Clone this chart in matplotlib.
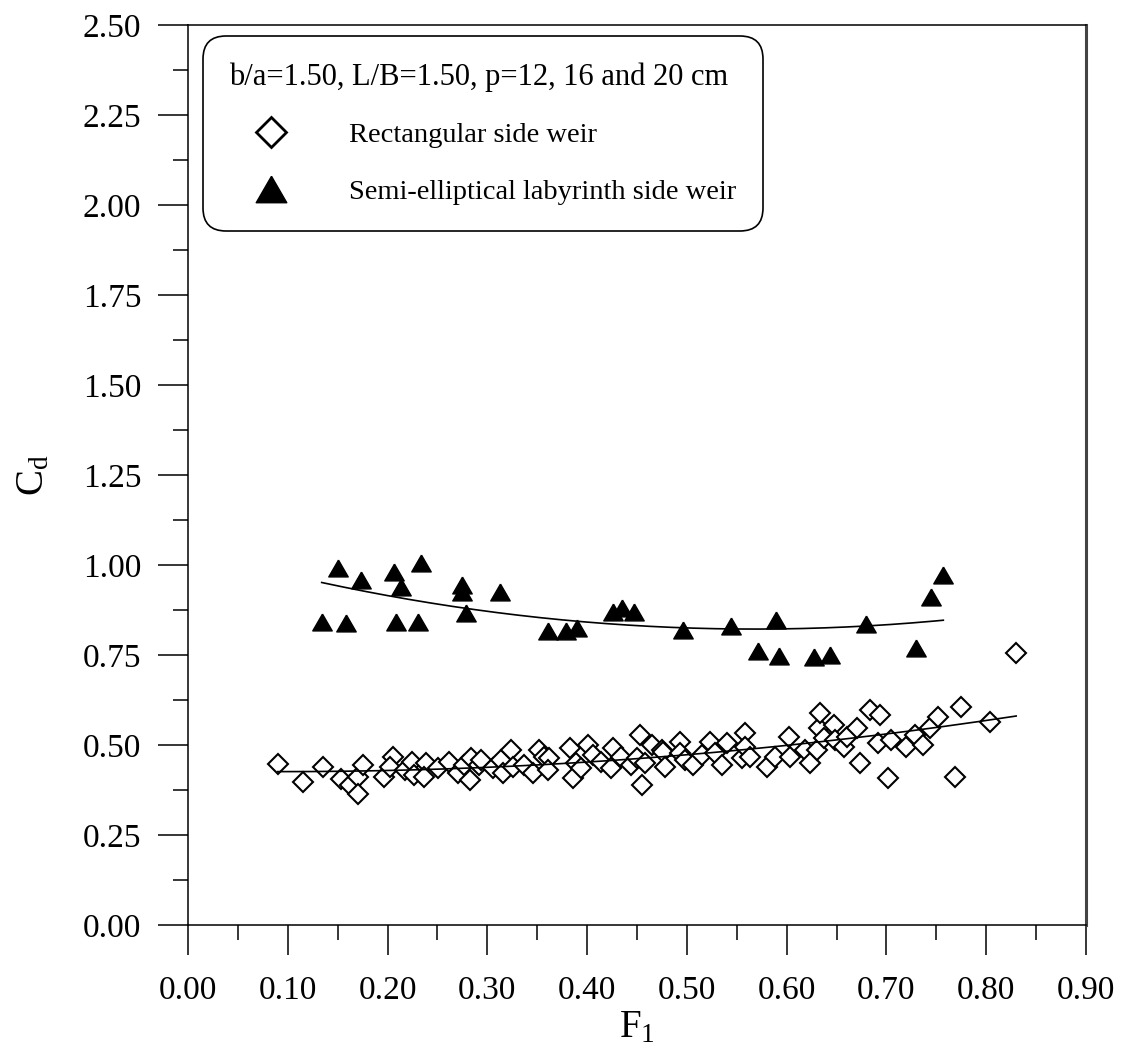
import numpy as np
import matplotlib
matplotlib.use("Agg")
from matplotlib import pyplot as plt
from matplotlib.lines import Line2D
from matplotlib.ticker import MultipleLocator, FormatStrFormatter

plt.rcParams['font.family'] = ['Liberation Serif', 'DejaVu Serif']
plt.rcParams['mathtext.default'] = 'regular'

# Rectangular side weir (open diamonds)
rect_f1 = [0.090, 0.115, 0.135, 0.153, 0.162, 0.170, 0.170, 0.175, 0.196, 0.205,
           0.202, 0.217, 0.224, 0.227, 0.239, 0.237, 0.251, 0.262, 0.271, 0.277,
           0.284, 0.283, 0.292, 0.294, 0.306, 0.314, 0.316, 0.324, 0.326, 0.337,
           0.346, 0.352, 0.357, 0.362, 0.361, 0.383, 0.389, 0.386, 0.394, 0.401,
           0.406, 0.414, 0.426, 0.424, 0.434, 0.444, 0.453, 0.455, 0.450, 0.458,
           0.465, 0.475, 0.476, 0.478, 0.493, 0.493, 0.498, 0.506, 0.515, 0.523,
           0.528, 0.535, 0.540, 0.555, 0.558, 0.558, 0.563, 0.580, 0.588, 0.602,
           0.603, 0.618, 0.623, 0.632, 0.633, 0.630, 0.637, 0.647, 0.648, 0.657,
           0.660, 0.670, 0.673, 0.684, 0.694, 0.692, 0.702, 0.705, 0.720, 0.729,
           0.737, 0.744, 0.752, 0.769, 0.775, 0.804, 0.830]
rect_cd = [0.446, 0.398, 0.440, 0.405, 0.389, 0.412, 0.364, 0.444, 0.412, 0.467,
           0.440, 0.431, 0.454, 0.417, 0.449, 0.412, 0.435, 0.454, 0.421, 0.444,
           0.463, 0.403, 0.444, 0.458, 0.435, 0.458, 0.421, 0.486, 0.440, 0.444,
           0.421, 0.486, 0.467, 0.463, 0.431, 0.491, 0.449, 0.407, 0.435, 0.500,
           0.472, 0.454, 0.491, 0.435, 0.467, 0.444, 0.528, 0.389, 0.463, 0.449,
           0.500, 0.486, 0.481, 0.440, 0.509, 0.477, 0.458, 0.444, 0.472, 0.509,
           0.477, 0.444, 0.505, 0.463, 0.532, 0.495, 0.467, 0.440, 0.467, 0.523,
           0.467, 0.486, 0.449, 0.546, 0.588, 0.486, 0.519, 0.556, 0.514, 0.495,
           0.523, 0.546, 0.449, 0.597, 0.583, 0.505, 0.407, 0.514, 0.495, 0.528,
           0.500, 0.546, 0.579, 0.412, 0.606, 0.565, 0.755]

# Semi-elliptical labyrinth side weir (filled triangles)
lab_f1 = [0.134, 0.150, 0.158, 0.173, 0.206, 0.208, 0.213, 0.231, 0.234, 0.275,
          0.275, 0.279, 0.313, 0.361, 0.379, 0.390, 0.426, 0.435, 0.447, 0.496,
          0.544, 0.571, 0.589, 0.592, 0.627, 0.643, 0.680, 0.730, 0.745, 0.757]
lab_cd = [0.841, 0.991, 0.838, 0.958, 0.981, 0.843, 0.938, 0.843, 1.005, 0.945,
          0.925, 0.868, 0.926, 0.817, 0.817, 0.824, 0.870, 0.881, 0.869, 0.819,
          0.830, 0.761, 0.847, 0.748, 0.745, 0.750, 0.835, 0.769, 0.912, 0.972]

legend_title = 'b/a=1.50, L/B=1.50, p=12, 16 and 20 cm'
rect_label = 'Rectangular side weir'
lab_label = 'Semi-elliptical labyrinth side weir'

# equilateral triangle, centred on its bounding box
tri = [(0, 0.866), (-1, -0.866), (1, -0.866), (0, 0.866)]


def trend(x, y):
    # 2nd order trend line over the range of the data
    c = np.polyfit(x, y, 2)
    xx = np.linspace(min(x), max(x), 200)
    return xx, np.polyval(c, xx)


fig = plt.figure(figsize=(11.21, 10.51), dpi=100)
ax = fig.add_axes([188 / 1121, 1 - 925 / 1051, (1086 - 188) / 1121, 900 / 1051])

ax.plot(rect_f1, rect_cd, linestyle='none', marker='D', markersize=10,
        markerfacecolor='white', markeredgecolor='black', markeredgewidth=1.5)
ax.plot(lab_f1, lab_cd, linestyle='none', marker=tri, markersize=14,
        markerfacecolor='black', markeredgecolor='black')

xx, yy = trend(rect_f1, rect_cd)
ax.plot(xx, yy, color='black', linewidth=1.2)
xx, yy = trend(lab_f1, lab_cd)
ax.plot(xx, yy, color='black', linewidth=1.2)

ax.set_xlim(0, 0.9)
ax.set_ylim(0, 2.5)
ax.xaxis.set_major_locator(MultipleLocator(0.1))
ax.xaxis.set_minor_locator(MultipleLocator(0.05))
ax.yaxis.set_major_locator(MultipleLocator(0.25))
ax.yaxis.set_minor_locator(MultipleLocator(0.125))
ax.xaxis.set_major_formatter(FormatStrFormatter('%.2f'))
ax.yaxis.set_major_formatter(FormatStrFormatter('%.2f'))
ax.tick_params(which='major', direction='out', length=21.6, width=1.1,
               labelsize=24, pad=12)
ax.tick_params(axis='x', which='major', pad=15)
ax.tick_params(which='minor', direction='out', length=10.8, width=1.1)
for s in ax.spines.values():
    s.set_linewidth(1.1)
ax.spines['right'].set_linewidth(2.2)
ax.spines['right'].set_color('#444444')

ax.set_xlabel('F$_1$', fontsize=28, labelpad=2)
ax.set_ylabel('C$_d$', fontsize=28, labelpad=22)

handles = [
    Line2D([], [], linestyle='none', marker='D', markersize=15.5,
           markerfacecolor='white', markeredgecolor='black', markeredgewidth=2),
    Line2D([], [], linestyle='none', marker=tri, markersize=22,
           markerfacecolor='black', markeredgecolor='black'),
]
leg = ax.legend(handles, [rect_label, lab_label], title=legend_title,
                loc='upper left', bbox_to_anchor=(15 / 898, 1 - 11 / 900),
                borderaxespad=0, fontsize=20.5, title_fontsize=22,
                alignment='left', handlelength=2.95, handletextpad=1.26,
                labelspacing=1.07, borderpad=0.93, frameon=True, fancybox=True,
                framealpha=1, edgecolor='black')
leg.get_frame().set_linewidth(1.2)
leg.get_frame().set_boxstyle('round', pad=0, rounding_size=0.8)

fig.savefig('out.png', dpi=100)
